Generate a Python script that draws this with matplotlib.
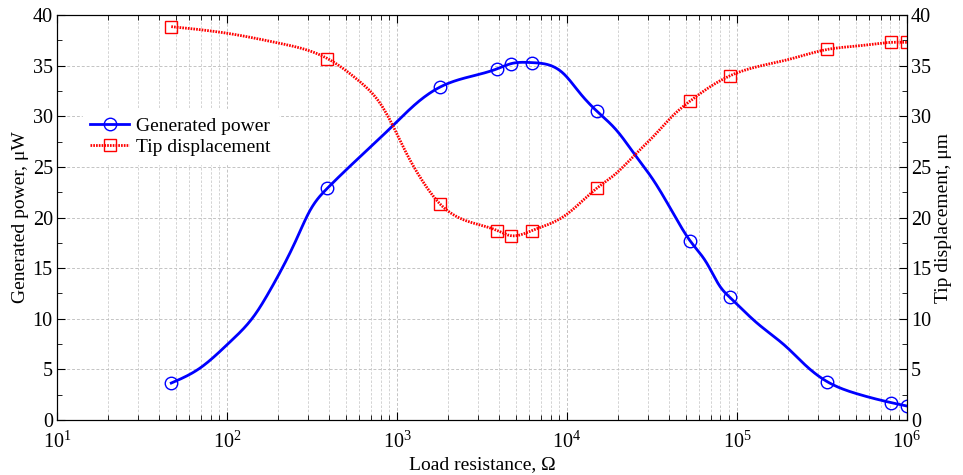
import numpy as np
import matplotlib.pyplot as plt
from matplotlib.ticker import LogLocator, MultipleLocator, NullFormatter

plt.rcParams['font.family'] = ['Liberation Serif', 'DejaVu Serif']
plt.rcParams['mathtext.fontset'] = 'stix'

load_res = [47, 390, 1800, 3900, 4700, 6200, 15000, 53000, 91000, 340000, 810000, 1000000]
power = [3.65, 22.9, 32.9, 34.7, 35.2, 35.3, 30.5, 17.7, 12.1, 3.78, 1.71, 1.38]
tip_disp = [38.85, 35.7, 21.3, 18.7, 18.2, 18.7, 22.9, 31.5, 34.0, 36.6, 37.3, 37.3]

# extra points (no markers)
power_trace_r = [69, 104, 146, 179, 219, 257, 308, 606, 950, 1306, 9560, 11900,
                 19600, 25100, 32200, 42200, 66400, 79400, 130700, 196000, 257000, 506000]
power_trace = [5.1, 7.7, 10.4, 12.8, 15.5, 17.9, 20.7, 26.0, 29.1, 31.3, 34.2, 32.3,
               28.6, 26.2, 23.7, 20.4, 15.5, 13.2, 9.6, 7.2, 5.3, 2.6]
disp_trace_r = [100, 205, 606, 794, 950, 1140, 1365, 9560, 19600, 25100, 32200,
                42200, 69300, 200000, 550000]
disp_trace = [38.2, 37.2, 33.4, 31.3, 29.0, 26.3, 24.0, 20.1, 24.4, 26.2, 28.0,
              30.1, 32.9, 35.6, 37.0]


def spline(x, y, xs):
    # natural cubic spline
    x = np.asarray(x, float)
    y = np.asarray(y, float)
    n = len(x)
    h = np.diff(x)
    A = np.zeros((n, n))
    b = np.zeros(n)
    A[0, 0] = A[-1, -1] = 1
    for i in range(1, n - 1):
        A[i, i - 1] = h[i - 1]
        A[i, i] = 2 * (h[i - 1] + h[i])
        A[i, i + 1] = h[i]
        b[i] = 6 * ((y[i + 1] - y[i]) / h[i] - (y[i] - y[i - 1]) / h[i - 1])
    M = np.linalg.solve(A, b)
    idx = np.clip(np.searchsorted(x, xs) - 1, 0, n - 2)
    x0, x1 = x[idx], x[idx + 1]
    hh = x1 - x0
    t0, t1 = x1 - xs, xs - x0
    return (M[idx] * t0**3 + M[idx + 1] * t1**3) / (6 * hh) + \
        (y[idx] / hh - M[idx] * hh / 6) * t0 + (y[idx + 1] / hh - M[idx + 1] * hh / 6) * t1


def smooth(r1, v1, r2, v2):
    r = np.concatenate([r1, r2]).astype(float)
    v = np.concatenate([v1, v2]).astype(float)
    o = np.argsort(r)
    lx = np.log10(r[o])
    xs = np.linspace(lx[0], lx[-1], 600)
    return 10**xs, spline(lx, v[o], xs)


fig = plt.figure(figsize=(9.63, 4.75), dpi=100)
ax = fig.add_axes([0.0592, 0.1158, 0.8826, 0.8526])
ax2 = ax.twinx()

dots = (0, (0.6, 0.4))
px, py = smooth(load_res, power, power_trace_r, power_trace)
ax.plot(px, py, color='#0000ff', lw=2)
ax.plot(load_res, power, 'o', mfc='none', mec='#0000ff', ms=9, mew=1)
dx, dy = smooth(load_res, tip_disp, disp_trace_r, disp_trace)
ax2.plot(dx, dy, color='#ff0000', lw=2, ls=dots)
ax2.plot(load_res, tip_disp, 's', mfc='none', mec='#ff0000', ms=8, mew=1)

# legend proxies
l1, = ax.plot([], [], color='#0000ff', lw=2, marker='o', mfc='none', ms=9, label='Generated power')
l2, = ax.plot([], [], color='#ff0000', lw=2, ls=dots, marker='s', mfc='none', ms=8,
              label='Tip displacement')

ax.set_xscale('log')
ax.set_xlim(10, 1e6)
for a in (ax, ax2):
    a.set_ylim(0, 40)
    a.yaxis.set_major_locator(MultipleLocator(5))
    a.yaxis.set_minor_locator(MultipleLocator(2.5))
    a.tick_params(which='both', direction='in', labelsize=14.5, pad=3)
    a.tick_params(which='major', length=6)
    a.tick_params(which='minor', length=3.5)
ax.xaxis.set_major_locator(LogLocator(base=10, numticks=10))
ax.xaxis.set_minor_locator(LogLocator(base=10, subs=np.arange(2, 10), numticks=20))
ax.xaxis.set_minor_formatter(NullFormatter())
ax.tick_params(axis='x', which='both', top=True, pad=8)

ax.grid(True, which='major', color='#c4c4c4', ls=(0, (3, 2)), lw=0.7)
ax.grid(True, which='minor', axis='x', color='#cccccc', ls=(0, (3, 2)), lw=0.6)

ax.set_xlabel('Load resistance, Ω', fontsize=14, labelpad=3)
ax.set_ylabel('Generated power, μW', fontsize=14, labelpad=3)
ax2.set_ylabel('Tip displacement, μm', fontsize=14, labelpad=3)

leg = ax2.legend(handles=[l1, l2], loc='center left', bbox_to_anchor=(0.03, 0.70), fontsize=14,
                 frameon=True, edgecolor='white', framealpha=1, fancybox=False,
                 handlelength=2.0, handletextpad=0.35, borderaxespad=0, labelspacing=0.2)

fig.savefig('out.png', dpi=100)
